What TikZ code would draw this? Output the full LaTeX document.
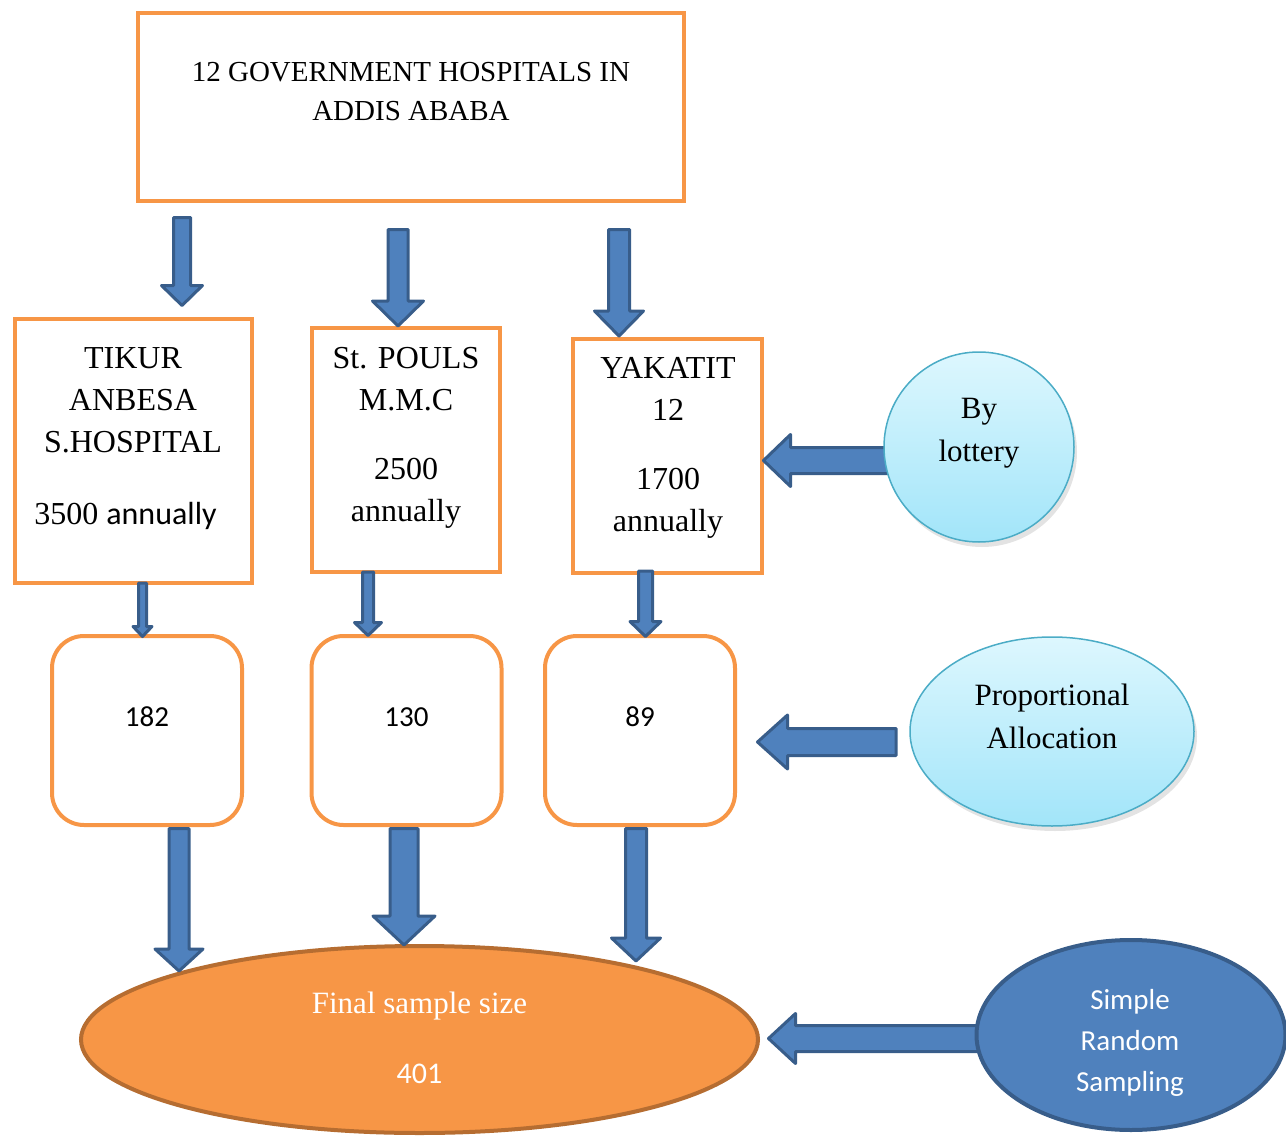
\documentclass[tikz,border=0pt]{standalone}
\usepackage{fontspec}
\setmainfont{Liberation Serif}
\newfontfamily\calib{Carlito}
\usepackage{tikz}
\usetikzlibrary{calc,shapes.geometric,shadows}

\definecolor{boxorange}{HTML}{F79646}
\definecolor{ovalrim}{HTML}{B66D31}
\definecolor{arrowblue}{HTML}{4F81BD}
\definecolor{arrowrim}{HTML}{385D8A}
\definecolor{skytop}{HTML}{DDF7FE}
\definecolor{skybot}{HTML}{A2E5F9}
\definecolor{skyrim}{HTML}{4BACC6}

\tikzset{
  hbox/.style={rectangle, draw=boxorange, line width=4pt, inner sep=0pt},
  numbox/.style={hbox, rounded corners=32pt, minimum width=190pt, minimum height=189pt},
  blkarrow/.style={fill=arrowblue, draw=arrowrim, line width=3pt, line join=round},
  skyoval/.style={ellipse, draw=skyrim, line width=1.5pt, inner sep=0pt,
    top color=skytop, bottom color=skybot,
    drop shadow={opacity=0.22, shadow xshift=3pt, shadow yshift=-5pt}},
  txt/.style={align=center, inner sep=0pt},
}

% block arrow pointing down: start, tip, half shaft, half head, head length
\newcommand{\downblk}[5]{%
  \draw[blkarrow] let \p1=(#1), \p2=(#2) in
    (\x1-#3pt,\y1) -- (\x1+#3pt,\y1) -- (\x1+#3pt,\y2+#5pt) -- (\x1+#4pt,\y2+#5pt)
    -- (\x1,\y2) -- (\x1-#4pt,\y2+#5pt) -- (\x1-#3pt,\y2+#5pt) -- cycle;}
% block arrow pointing left: start, tip, half shaft, half head, head length
\newcommand{\leftblk}[5]{%
  \draw[blkarrow] let \p1=(#1), \p2=(#2) in
    (\x1,\y1+#3pt) -- (\x1,\y1-#3pt) -- (\x2+#5pt,\y1-#3pt) -- (\x2+#5pt,\y1-#4pt)
    -- (\x2,\y1) -- (\x2+#5pt,\y1+#4pt) -- (\x2+#5pt,\y1+#3pt) -- cycle;}

\newcommand{\serifbig}{\fontsize{32}{42}\selectfont}

\begin{document}
\begin{tikzpicture}[x=1pt, y=-1pt]
    \useasboundingbox (0,0) rectangle (1286,1137);

    % 1. Hospital boxes
    \node[hbox, minimum width=546pt, minimum height=188pt] (gov) at (411,107) {};
    \node[txt, font=\fontsize{29}{39}\selectfont] (gov-t) at (411,91.5)
        {12 GOVERNMENT HOSPITALS IN\\ADDIS ABABA};

    \node[hbox, minimum width=237pt, minimum height=264pt] (tikur) at (133.5,451) {};
    \node[txt, font=\serifbig] (tikur-t) at (133,439)
        {TIKUR\\ANBESA\\S.HOSPITAL\\[30pt]3500 {\calib annually}\hspace*{15pt}};

    \node[hbox, minimum width=188pt, minimum height=244pt] (pouls) at (406,450) {};
    \node[txt, font=\serifbig] (pouls-t) at (406,437.5)
        {St. POULS\\M.M.C\\[27pt]2500\\annually};

    \node[hbox, minimum width=189pt, minimum height=234pt] (yakatit) at (667.5,456) {};
    \node[txt, font=\serifbig] (yakatit-t) at (668,448)
        {YAKATIT\\12\\[27pt]1700\\annually};

    % 2. Sample size per hospital
    \node[numbox] (n1) at (147,730.5) {};
    \node[numbox] (n2) at (406.5,730.5) {};
    \node[numbox] (n3) at (640,730.5) {};
    \node[txt, font=\calib\fontsize{29}{34}\selectfont] (n1-t) at (147,717) {182};
    \node[txt, font=\calib\fontsize{29}{34}\selectfont] (n2-t) at (406.5,717) {130};
    \node[txt, font=\calib\fontsize{29}{34}\selectfont] (n3-t) at (640,717) {89};

    % 3. Final sample
    \node[ellipse, draw=ovalrim, fill=boxorange, line width=4pt, inner sep=0pt,
          minimum width=677pt, minimum height=187pt] (final) at (419.5,1039.5) {};
    \node[txt, text=white, font=\fontsize{31}{40}\selectfont] (final-t) at (419.5,1037.5)
        {Final sample size\\[30pt]{\calib\fontsize{30}{40}\selectfont 401}};

    % 4. Block arrows down
    \coordinate (a1s) at (182,217.5);   \coordinate (a1t) at (182,305.5);
    \coordinate (a2s) at (398,229.5);   \coordinate (a2t) at (398,326);
    \coordinate (a3s) at (619,229.5);   \coordinate (a3t) at (619,336);
    \downblk{a1s}{a1t}{8.5}{20.5}{20}
    \downblk{a2s}{a2t}{10}{25.5}{25}
    \downblk{a3s}{a3t}{10.5}{24.5}{25}

    \coordinate (s1s) at (142.5,583);   \coordinate (s1t) at (142.5,636.5);
    \coordinate (s2s) at (368,572);     \coordinate (s2t) at (368,635.5);
    \coordinate (s3s) at (645.5,571);   \coordinate (s3t) at (645.5,636.5);
    \downblk{s1s}{s1t}{4}{9.5}{10}
    \downblk{s2s}{s2t}{5.5}{13.5}{13}
    \downblk{s3s}{s3t}{7}{15.5}{15}

    \coordinate (b1s) at (179,828.5);   \coordinate (b1t) at (179,971);
    \coordinate (b2s) at (404,828.5);   \coordinate (b2t) at (404,945);
    \coordinate (b3s) at (636,828.5);   \coordinate (b3t) at (636,961);
    \downblk{b1s}{b1t}{10}{24}{22}
    \downblk{b2s}{b2t}{14}{31}{29}
    \downblk{b3s}{b3t}{10.5}{24.5}{23}

    % 5. Methods with arrows pointing left
    \coordinate (l1s) at (890,460.5);   \coordinate (l1t) at (763.5,460.5);
    \coordinate (l2s) at (896,742);     \coordinate (l2t) at (757.5,742);
    \coordinate (l3s) at (985,1038.5);  \coordinate (l3t) at (768.5,1038.5);
    \leftblk{l1s}{l1t}{13}{26}{27}
    \leftblk{l2s}{l2t}{13.5}{27}{30}
    \leftblk{l3s}{l3t}{13}{25}{27}

    \node[skyoval, minimum width=190pt, minimum height=190pt] (lottery) at (979,447) {};
    \node[txt, font=\fontsize{31}{43}\selectfont] (lottery-t) at (979,433.5) {By\\lottery};

    \node[skyoval, minimum width=284pt, minimum height=189pt] (prop) at (1052,731.5) {};
    \node[txt, font=\fontsize{31}{43}\selectfont] (prop-t) at (1052,716)
        {Proportional\\Allocation};

    \node[ellipse, draw=arrowrim, fill=arrowblue, line width=4pt, inner sep=0pt,
          minimum width=309pt, minimum height=190pt] (srs) at (1131,1035) {};
    \node[txt, text=white, font=\calib\fontsize{29}{41}\selectfont] (srs-t) at (1130,1043)
        {Simple\\Random\\Sampling};
\end{tikzpicture}
\end{document}
